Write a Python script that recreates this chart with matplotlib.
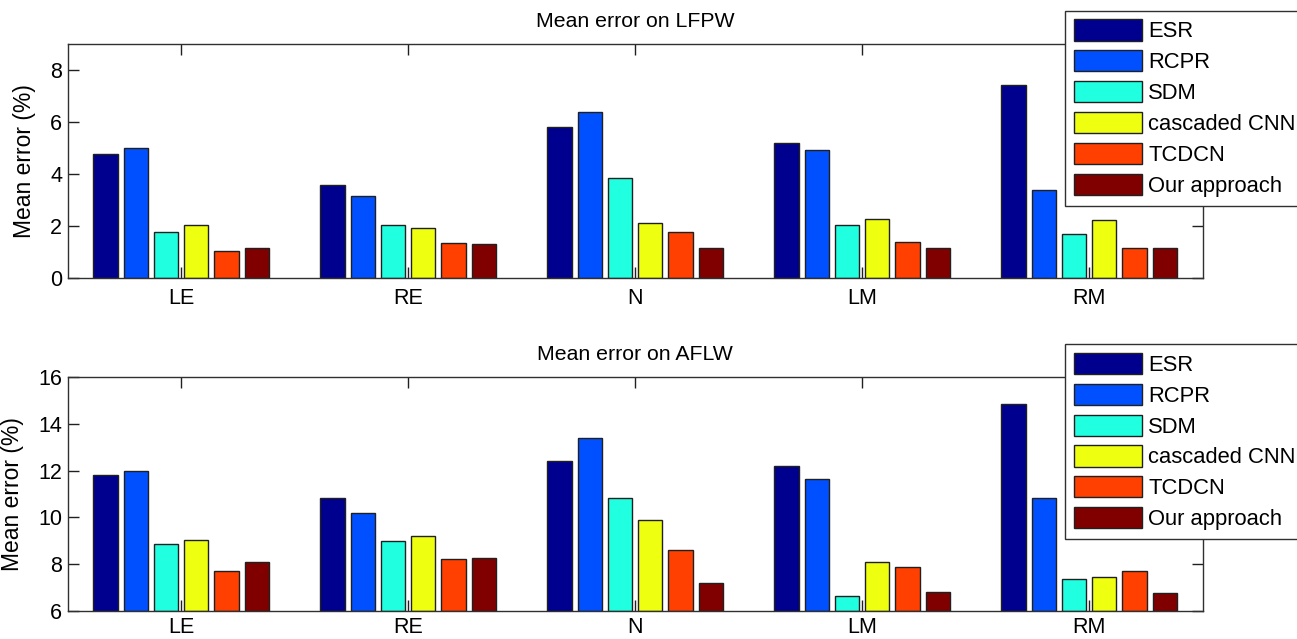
import matplotlib
matplotlib.use('Agg')
import matplotlib.pyplot as plt
import numpy as np

plt.rcParams['font.family'] = ['Liberation Sans', 'DejaVu Sans']

landmarks = ['LE', 'RE', 'N', 'LM', 'RM']
methods = ['ESR', 'RCPR', 'SDM', 'cascaded CNN', 'TCDCN', 'Our approach']
colors = ['#00008F', '#0050FF', '#20FFDF', '#EFFF10', '#FF4000', '#800000']

# rows = methods, columns = landmarks
lfpw_esr = [4.77, 3.58, 5.82, 5.18, 7.41]
lfpw_rcpr = [4.99, 3.16, 6.38, 4.91, 3.37]
lfpw_sdm = [1.76, 2.02, 3.83, 2.02, 1.70]
lfpw_cnn = [2.02, 1.91, 2.10, 2.28, 2.22]
lfpw_tcdcn = [1.02, 1.34, 1.75, 1.39, 1.14]
lfpw_ours = [1.14, 1.29, 1.17, 1.17, 1.14]

aflw_esr = [11.83, 10.84, 12.42, 12.19, 14.84]
aflw_rcpr = [12.00, 10.21, 13.40, 11.65, 10.84]
aflw_sdm = [8.87, 9.00, 10.84, 6.66, 7.36]
aflw_cnn = [9.04, 9.21, 9.91, 8.11, 7.47]
aflw_tcdcn = [7.71, 8.23, 8.62, 7.87, 7.71]
aflw_ours = [8.11, 8.28, 7.18, 6.83, 6.77]

lfpw = [lfpw_esr, lfpw_rcpr, lfpw_sdm, lfpw_cnn, lfpw_tcdcn, lfpw_ours]
aflw = [aflw_esr, aflw_rcpr, aflw_sdm, aflw_cnn, aflw_tcdcn, aflw_ours]


def bar_panel(fig, rect, data, ylim, yticks, title, legend_top, xpad):
    ax = fig.add_axes(rect)
    x = np.arange(1, len(landmarks) + 1)
    n = len(methods)
    step = 0.8 / n
    base = ylim[0]
    for i, vals in enumerate(data):
        vals = np.array(vals)
        ax.bar(x + (i - (n - 1) / 2) * step, vals - base, bottom=base, width=step * 0.8,
               color=colors[i], edgecolor='#202020', linewidth=1.0, label=methods[i])
    ax.set_xlim(0.5, 5.5)
    ax.set_ylim(*ylim)
    ax.set_yticks(yticks)
    ax.set_xticks(x)
    ax.set_xticklabels(landmarks)
    ax.tick_params(direction='in', length=8, width=1, top=True, right=True,
                   labelsize=15.5, color='#202020')
    ax.tick_params(axis='x', pad=xpad)
    ax.tick_params(axis='y', pad=4)
    for s in ax.spines.values():
        s.set_color('#303030')
        s.set_linewidth(1.0)
    ax.set_ylabel('Mean error (%)', fontsize=16.5, labelpad=10)
    ax.set_title(title, fontsize=15.3, pad=12)
    ax.legend(loc='upper left', bbox_to_anchor=(1065 / 1297, legend_top),
              bbox_transform=fig.transFigure, borderaxespad=0, fontsize=15.8,
              fancybox=False, framealpha=1, edgecolor='#303030',
              handlelength=3.1, handleheight=1.1, labelspacing=0.36,
              handletextpad=0.3, borderpad=0.4)
    ax.get_legend().get_frame().set_linewidth(1.0)
    return ax


fig = plt.figure(figsize=(12.97, 6.39), dpi=100)
bar_panel(fig, [0.0522, 0.565, 0.875, 0.366], lfpw, (0, 9), [0, 2, 4, 6, 8],
          'Mean error on LFPW', 1 - 10.7 / 639, 7)
bar_panel(fig, [0.0522, 0.0438, 0.875, 0.366], aflw, (6, 16), [6, 8, 10, 12, 14, 16],
          'Mean error on AFLW', 1 - 344 / 639, 4)

fig.savefig('out.png', dpi=100)
